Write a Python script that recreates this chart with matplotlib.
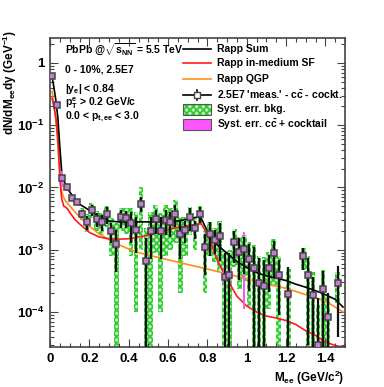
import numpy as np
import matplotlib
matplotlib.use('Agg')
import matplotlib.pyplot as plt
from matplotlib.ticker import FixedLocator, FixedFormatter, FuncFormatter, LogLocator
from matplotlib.patches import Rectangle

plt.rcParams['font.family'] = 'Liberation Sans'
plt.rcParams['font.weight'] = 'bold'
plt.rcParams['mathtext.fontset'] = 'custom'
plt.rcParams['mathtext.rm'] = 'Liberation Sans:bold'
plt.rcParams['mathtext.it'] = 'Liberation Sans:bold'
plt.rcParams['mathtext.bf'] = 'Liberation Sans:bold'
plt.rcParams['hatch.linewidth'] = 1.3

## DATA

# bin centres 0.0125 ... 1.4875, width 0.025
m_pts = [0.0125, 0.0375, 0.0625, 0.0875, 0.1125, 0.1375, 0.1625, 0.1875, 0.2125, 0.2375,
         0.2625, 0.2875, 0.3125, 0.3375, 0.3625, 0.3875, 0.4125, 0.4375, 0.4625, 0.4875,
         0.5125, 0.5375, 0.5625, 0.5875, 0.6125, 0.6375, 0.6625, 0.6875, 0.7125, 0.7375,
         0.7625, 0.7875, 0.8125, 0.8375, 0.8625, 0.8875, 0.9125, 0.9375, 0.9625, 0.9875,
         1.0125, 1.0375, 1.0625, 1.0875, 1.1125, 1.1375, 1.1625, 1.1875, 1.2125, 1.2375,
         1.2625, 1.2875, 1.3125, 1.3375, 1.3625, 1.3875, 1.4125, 1.4375, 1.4625, 1.4875]
y_pts = [0.62, 0.215, 0.0141, 0.0103, 0.0069, 0.0058, 0.0038, 0.0028, 0.0044, 0.0031,
         0.0028, 0.0037, 0.0020, 0.00124, 0.0033, 0.0032, 0.0027, 0.0021, 0.0055, 0.00066,
         0.0020, 0.0031, 0.0020, 0.0030, 0.0028, 0.0038, 0.0018, 0.0021, 0.0033, 0.0022,
         0.0038, 0.0011, 0.0018, 0.00144, 0.00165, 0.00037, 0.00040, 0.00132, 0.00093, 0.00101,
         0.00072, 0.00051, 0.00029, 0.00026, 0.00051, 0.00087, 0.00039, None, 0.000196, None,
         None, 0.00078, 0.00039, 0.00019, 3.0e-5, 0.00023, 8.4e-5, None, 0.00029, None]
stat_err = [0.02, 0.01, 0.001, 0.0008, 0.0006, 0.0005, 0.0006, 0.0007, 0.0009, 0.0008,
            0.0008, 0.0011, 0.0007, 0.0008, 0.0011, 0.0010, 0.0014, 0.0012, 0.0015, 0.0009,
            0.0013, 0.0013, 0.0013, 0.0013, 0.0012, 0.0015, 0.0011, 0.0008, 0.0013, 0.0007,
            0.0011, 0.0007, 0.0010, 0.0006, 0.0010, 0.0005, 0.0005, 0.0007, 0.0006, 0.0006,
            0.0005, 0.0006, 0.00045, 0.00043, 0.0003, 0.0005, 0.0003, 0, 0.00033, 0,
            0, 0.0003, 0.00036, 0.00017, 0.00014, 0.00022, 0.00012, 0, 0.00025, 0]
syst_bkg = [0, 0, 0.001, 0.0008, 0.0006, 0.0006, 0.0008, 0.0009, 0.0012, 0.0011,
            0.0011, 0.0014, 0.0012, 0.0014, 0.0013, 0.0014, 0.0019, 0.0020, 0.0045, 0.0016,
            0.0020, 0.0022, 0.0019, 0.0022, 0.0018, 0.0025, 0.0016, 0.0013, 0.0016, 0.0012,
            0.0013, 0.0009, 0.0010, 0.0008, 0.0012, 0.0006, 0.0006, 0.0008, 0.0007, 0.0007,
            0.0006, 0.0007, 0.0005, 0.0005, 0.0004, 0.0006, 0.0004, 0, 0.0003, 0,
            0, 0.0003, 0.0004, 0.00025, 0.0001, 0.00025, 0.0001, 0, 0.00015, 0]
syst_cc = [0.06, 0.03, 0.004, 0.0015, 0.0008, 0.0005, 0.0003, 0.0002, 0.0003, 0.0002,
           0.0002, 0.0003, 0.0002, 0.0001, 0.0003, 0.0003, 0.0002, 0.0002, 0.0004, 0.0001,
           0.0002, 0.0002, 0.0002, 0.0002, 0.0002, 0.0003, 0.0002, 0.0002, 0.0003, 0.0002,
           0.0003, 0.0002, 0.0002, 0.0002, 0.0002, 0.0001, 0.0001, 0.0002, 0.0002, 0.0009,
           0.0001, 0.0001, 0.00005, 0.00005, 0.00008, 0.0001, 0.00006, 0, 0.00004, 0,
           0, 0.0001, 0.00006, 0.00004, 0.00001, 0.00004, 0.00002, 0, 0.00005, 0]

# Rapp curves
m_sum = [0.01, 0.02, 0.03, 0.04, 0.05, 0.06, 0.07, 0.08, 0.1, 0.125, 0.15, 0.2, 0.25, 0.3,
         0.35, 0.4, 0.45, 0.5, 0.55, 0.6, 0.65, 0.7, 0.74, 0.765, 0.785, 0.8, 0.82, 0.85,
         0.9, 0.95, 1.0, 1.05, 1.1, 1.15, 1.2, 1.25, 1.3, 1.35, 1.4, 1.45, 1.49]
y_sum = [0.62, 0.40, 0.25, 0.13, 0.045, 0.017, 0.013, 0.011, 0.0085, 0.0066, 0.0054, 0.0043,
         0.0034, 0.0029, 0.0028, 0.0028, 0.0028, 0.0028, 0.0028, 0.00285, 0.0029, 0.0031,
         0.0033, 0.0034, 0.0025, 0.0020, 0.0016, 0.0012, 0.00088, 0.00065, 0.00052, 0.00043,
         0.00038, 0.00035, 0.00032, 0.00028, 0.00025, 0.00022, 0.00019, 0.00016, 0.00012]

m_sf = [0.01, 0.02, 0.03, 0.04, 0.05, 0.055, 0.06, 0.07, 0.08, 0.09, 0.1, 0.125, 0.15, 0.2,
        0.25, 0.3, 0.35, 0.4, 0.45, 0.5, 0.55, 0.6, 0.65, 0.7, 0.75, 0.77, 0.79, 0.81, 0.85,
        0.9, 0.95, 1.0, 1.05, 1.1, 1.15, 1.2, 1.25, 1.3, 1.35, 1.4, 1.45, 1.5]
y_sf = [0.27, 0.2, 0.13, 0.06, 0.015, 0.009, 0.0065, 0.0050, 0.0048, 0.0045, 0.0040, 0.0031,
        0.0026, 0.0019, 0.0016, 0.0015, 0.00148, 0.0015, 0.0016, 0.0017, 0.0019, 0.0021,
        0.0023, 0.0024, 0.0026, 0.0026, 0.0020, 0.0015, 0.00069, 0.00034, 0.00018, 0.000125,
        0.0001, 8.6e-5, 8.0e-5, 7.3e-5, 6.3e-5, 5.0e-5, 4.2e-5, 3.3e-5, 2.9e-5, 2.7e-5]

m_qgp = [0.01, 0.02, 0.03, 0.04, 0.05, 0.06, 0.07, 0.08, 0.1, 0.125, 0.15, 0.2, 0.25, 0.3,
         0.35, 0.4, 0.45, 0.5, 0.6, 0.7, 0.8, 0.9, 1.0, 1.1, 1.2, 1.3, 1.4, 1.45, 1.49]
y_qgp = [0.35, 0.22, 0.12, 0.05, 0.018, 0.0085, 0.0068, 0.006, 0.0051, 0.0041, 0.0034, 0.0024,
         0.0018, 0.00145, 0.0012, 0.00103, 0.0009, 0.00082, 0.00069, 0.00058, 0.00049, 0.00041,
         0.00034, 0.00028, 0.00024, 0.00019, 0.00015, 0.00012, 0.0001]

## PLOT

m = np.array(m_pts)
y = np.array([np.nan if v is None else v for v in y_pts])
es = np.array(stat_err)
eb = np.array(syst_bkg)
ec = np.array(syst_cc)
ok = ~np.isnan(y)
floor = 1e-7

fig = plt.figure(figsize=(3.84, 3.87), dpi=100)
ax = fig.add_axes([50/384, 40/387, 295/384, 308.5/387])
ax.set_yscale('log')
ax.set_xlim(0, 1.5)
ax.set_ylim(2.74e-5, 2.47)

green = '#2fcc2f'
green_bg = '#c8f4c8'
# syst. bkg boxes
lo = np.maximum(y - eb, floor)
hi = y + eb
gb = ok & (eb > 0)
ax.bar(m[gb], hi[gb] - lo[gb], bottom=lo[gb], width=0.024, facecolor=green_bg,
       edgecolor=green, hatch='xxxxx', linewidth=0, zorder=1)

ax.plot(m_qgp, y_qgp, color='#ff8c1a', lw=1.2, zorder=2)
ax.plot(m_sf, y_sf, color='#ff1a1a', lw=1.2, zorder=2)
ax.plot(m_sum, y_sum, color='black', lw=1.2, zorder=2)

# syst cc + cocktail boxes
lo = np.maximum(y - ec, floor)
hi = y + ec
pb = ok & (ec > 0)
ax.bar(m[pb], hi[pb] - lo[pb], bottom=lo[pb], width=0.011, facecolor='#ff55ff',
       edgecolor='#ff55ff', linewidth=0, zorder=3)

lo = np.maximum(y - es, floor)
hi = y + es
ax.vlines(m[ok], lo[ok], hi[ok], color='#111111', lw=1.6, zorder=4)
ax.plot(m[ok], y[ok], 's', ms=4.3, mfc='#c080d0', mec='#444444', mew=1.1, zorder=5)

# axes style
for s in ax.spines.values():
    s.set_color('#444444')
    s.set_linewidth(1.2)
ax.xaxis.set_major_locator(FixedLocator([0, 0.2, 0.4, 0.6, 0.8, 1.0, 1.2, 1.4]))
ax.xaxis.set_minor_locator(FixedLocator(np.arange(0, 1.51, 0.05)))
ax.xaxis.set_major_formatter(FuncFormatter(lambda v, p: f'{v:g}'))
ax.yaxis.set_major_locator(FixedLocator([1e-4, 1e-3, 1e-2, 1e-1, 1]))
ax.yaxis.set_major_formatter(FixedFormatter(['$10^{-4}$', '$10^{-3}$', '$10^{-2}$', '$10^{-1}$', '1']))
ax.yaxis.set_minor_locator(LogLocator(base=10, subs=np.arange(2, 10)))
ax.yaxis.set_minor_formatter(FuncFormatter(lambda v, p: ''))
ax.tick_params(which='both', direction='in', top=True, right=True, color='#444444',
               labelsize=9.5, width=0.8)
ax.tick_params(which='major', length=6)
ax.tick_params(which='minor', length=3)
ax.tick_params(axis='x', pad=4)
ax.tick_params(axis='y', pad=4)

fig.text(10/384, 1 - 30/387, r'dN/dM$_{ee}$dy (GeV$^{-1}$)', rotation=90,
         ha='center', va='top', fontsize=8.5)
fig.text(344/384, 1 - 378/387, r'M$_{ee}$ (GeV/c$^{2}$)', ha='right', va='center',
         fontsize=8.5)

# info text
def fy(py):
    return (347 - py) / 308.5

tx = (65 - 50) / 295
ax.text(tx, fy(50), r'PbPb @$\sqrt{s_{NN}}$ = 5.5 TeV', transform=ax.transAxes,
        va='center', fontsize=7.5)
ax.text(tx, fy(70), '0 - 10%, 2.5E7', transform=ax.transAxes, va='center', fontsize=7.5)
ax.text(tx, fy(89), r'|y$_{e}$| < 0.84', transform=ax.transAxes, va='center', fontsize=7.5)
ax.text(tx, fy(103), r'p$_{T}^{e}$ > 0.2 GeV/c', transform=ax.transAxes, va='center',
        fontsize=7.5)
ax.text(tx, fy(117), r'0.0 < p$_{t,ee}$ < 3.0', transform=ax.transAxes, va='center',
        fontsize=7.5)

# legend
hx0 = (183 - 50) / 295
hx1 = (211 - 50) / 295
ltx = (217 - 50) / 295
rows = [49.5, 63.5, 79.5, 95, 109.5, 124.5]
labels = ['Rapp Sum', 'Rapp in-medium SF', 'Rapp QGP',
          r"2.5E7 'meas.' - c$\bar{c}$ - cockt.", 'Syst. err. bkg.',
          r'Syst. err. c$\bar{c}$ + cocktail']
ax.plot([hx0, hx1], [fy(rows[0])] * 2, color='black', lw=1.2, transform=ax.transAxes)
ax.plot([hx0, hx1], [fy(rows[1])] * 2, color='#ff1a1a', lw=1.2, transform=ax.transAxes)
ax.plot([hx0, hx1], [fy(rows[2])] * 2, color='#ff8c1a', lw=1.2, transform=ax.transAxes)
ax.plot([hx0, hx1], [fy(rows[3])] * 2, color='black', lw=1.2, transform=ax.transAxes)
xm = (hx0 + hx1) / 2
ax.plot([xm, xm], [fy(rows[3] + 5), fy(rows[3] - 5)], color='black', lw=1.2,
        transform=ax.transAxes)
ax.plot([xm], [fy(rows[3])], 's', ms=4, mfc='white', mec='#444444', mew=1,
        transform=ax.transAxes)
bh = 10 / 308.5
ax.add_patch(Rectangle((hx0, fy(rows[4]) - bh / 2), hx1 - hx0, bh, transform=ax.transAxes,
                       facecolor=green_bg, edgecolor=green, hatch='xxxxx', lw=0))
ax.add_patch(Rectangle((hx0, fy(rows[4]) - bh / 2), hx1 - hx0, bh, transform=ax.transAxes,
                       facecolor='none', edgecolor='#555555', lw=0.8))
ax.add_patch(Rectangle((hx0, fy(rows[5]) - bh / 2), hx1 - hx0, bh, transform=ax.transAxes,
                       facecolor='#ff55ff', edgecolor='#555555', lw=0.8))
for r, lab in zip(rows, labels):
    ax.text(ltx, fy(r), lab, transform=ax.transAxes, va='center', fontsize=7.5)

fig.savefig('out.png', dpi=100)
